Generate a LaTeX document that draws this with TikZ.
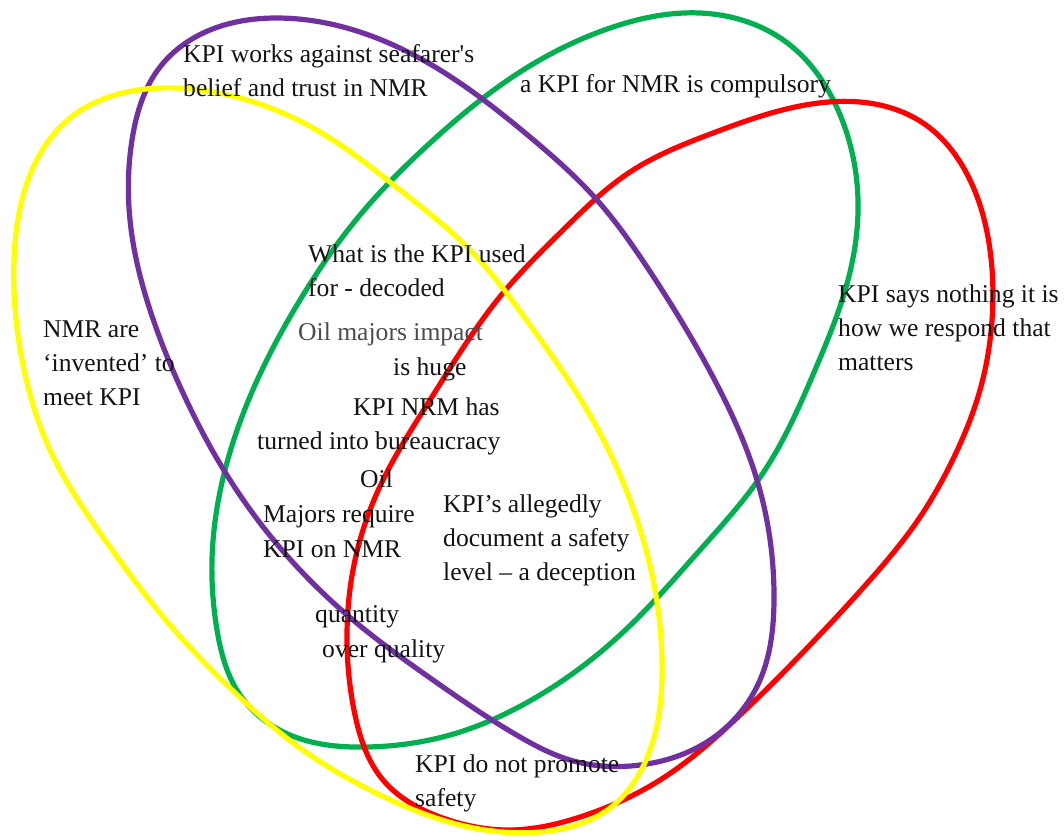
\documentclass[tikz,border=0pt]{standalone}
\usepackage{fontspec}
\setmainfont{Liberation Serif}[Ligatures=TeXOff]
\usetikzlibrary{hobby}
\definecolor{cyellow}{HTML}{FFFF00}
\definecolor{cpurple}{HTML}{7030A0}
\definecolor{cgreen}{HTML}{00B050}
\definecolor{cred}{HTML}{FF0000}
\tikzset{
  lbl/.style={anchor=base west, inner sep=0pt, text=black!92, font=\fontsize{25.6}{34}\selectfont},
  loopline/.style={line width=5.2pt, line join=round, use Hobby shortcut, closed=true},
}
\begin{document}
\begin{tikzpicture}[x=1pt,y=-1pt]
\useasboundingbox[fill=white] (0,0) rectangle (1064,839);
% green
\draw[loopline, cgreen] (700,13) .. (790,45) .. (838,110) .. (858,200) .. (848,280) .. (815,370)
 .. (763,473) .. (700,550) .. (620,635) .. (540,695) .. (450,735) .. (367,747) .. (290,735)
 .. (240,695) .. (217,630) .. (212,560) .. (225,470) .. (255,385) .. (300,300) .. (360,215)
 .. (430,143) .. (520,72) .. (610,28);
% red
\draw[loopline, cred] (860,102) .. (923,123) .. (970,180) .. (990,250) .. (992,320) .. (980,390)
 .. (955,455) .. (918,520) .. (870,580) .. (810,645) .. (740,715) .. (660,780) .. (580,817)
 .. (510,830) .. (440,817) .. (383,780) .. (355,715) .. (347,640) .. (355,560) .. (383,480)
 .. (430,400) .. (503,293) .. (563,230) .. (630,172) .. (713,133) .. (800,106);
% purple
\draw[loopline, cpurple] (277,18) .. (360,32) .. (430,64) .. (530,137) .. (597,200) .. (647,267)
 .. (713,377) .. (757,480) .. (774,600) .. (760,680) .. (710,740) .. (640,765) .. (570,760)
 .. (520,737) .. (433,680) .. (353,620) .. (300,570) .. (230,480) .. (183,393) .. (150,310)
 .. (130,220) .. (132,140) .. (160,67) .. (210,30);
% yellow
\draw[loopline, cyellow] (160,88) .. (240,98) .. (320,132) .. (400,190) .. (470,250) .. (530,325)
 .. (587,410) .. (630,500) .. (655,590) .. (662,660) .. (650,750) .. (610,808) .. (540,832)
 .. (460,825) .. (380,795) .. (300,748) .. (230,688) .. (170,625) .. (105,540) .. (50,450)
 .. (22,360) .. (14,260) .. (28,180) .. (70,118);
% labels
\node[lbl] (t1a) at (183,62) {KPI works against seafarer's};
\node[lbl] (t1b) at (183,96) {belief and trust in NMR};
\node[lbl] (t2) at (520,92) {a KPI for NMR is compulsory};
\node[lbl] (t3a) at (308,262) {What is the KPI used};
\node[lbl] (t3b) at (308,296) {for - decoded};
\node[lbl, text=black!70] (t4a) at (298,340) {Oil majors impact};
\node[lbl] (t4b) at (393,375) {is huge};
\node[lbl] (t5a) at (353,415) {KPI NRM has};
\node[lbl] (t5b) at (257,449) {turned into bureaucracy};
\node[lbl] (t6a) at (360,487) {Oil};
\node[lbl] (t6b) at (263,522) {Majors require};
\node[lbl] (t6c) at (263,557) {KPI on NMR};
\node[lbl] (t7a) at (443,512) {KPI’s allegedly};
\node[lbl] (t7b) at (443,546) {document a safety};
\node[lbl] (t7c) at (443,580) {level – a deception};
\node[lbl] (t8a) at (315,622) {quantity};
\node[lbl] (t8b) at (322,657) {over quality};
\node[lbl] (t9a) at (415,772) {KPI do not promote};
\node[lbl] (t9b) at (415,806) {safety};
\node[lbl] (t10a) at (838,302) {KPI says nothing it is};
\node[lbl] (t10b) at (838,336) {how we respond that};
\node[lbl] (t10c) at (838,370) {matters};
\node[lbl] (t11a) at (43,337) {NMR are};
\node[lbl] (t11b) at (43,371) {‘invented’ to};
\node[lbl] (t11c) at (43,405) {meet KPI};
\end{tikzpicture}
\end{document}
